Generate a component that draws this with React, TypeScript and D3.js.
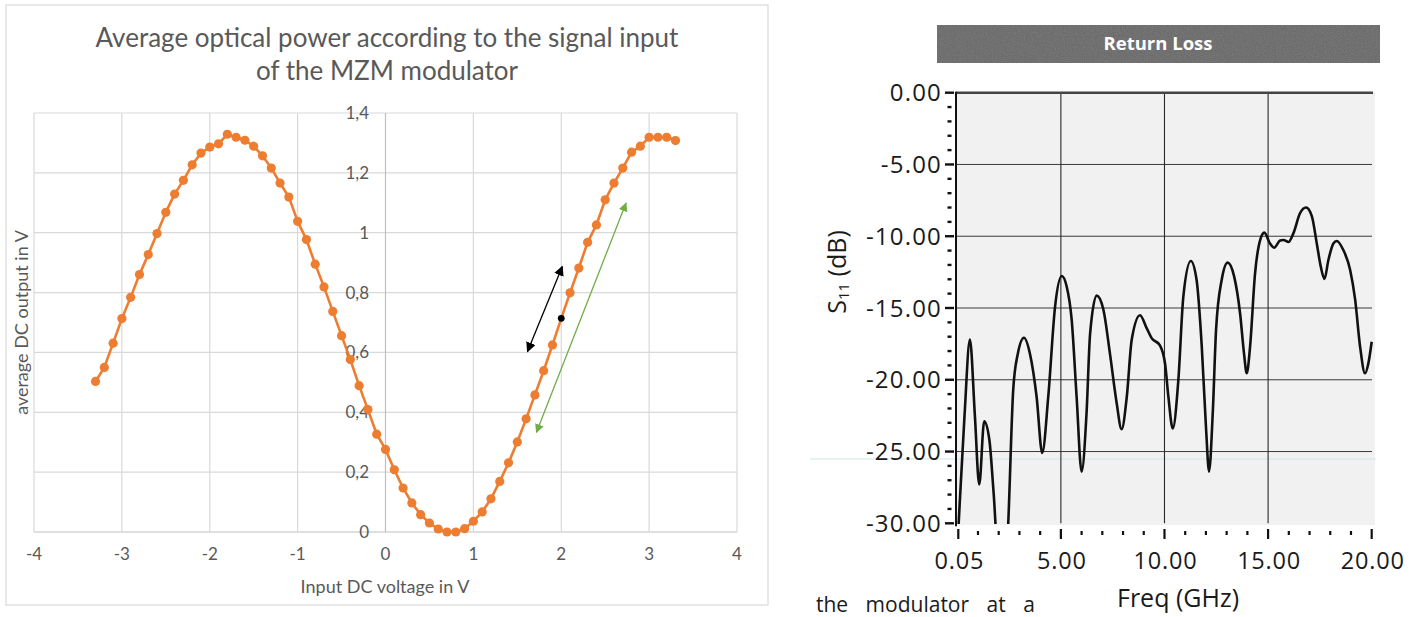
import React from "react";
import * as d3 from "d3";

// ---------- Left chart data (MZM transfer curve) ----------
const voltages = [
  -3.3, -3.2, -3.1, -3.0, -2.9, -2.8, -2.7, -2.6, -2.5, -2.4, -2.3, -2.2, -2.1, -2.0,
  -1.9, -1.8, -1.7, -1.6, -1.5, -1.4, -1.3, -1.2, -1.1, -1.0, -0.9, -0.8, -0.7, -0.6,
  -0.5, -0.4, -0.3, -0.2, -0.1, 0.0, 0.1, 0.2, 0.3, 0.4, 0.5, 0.6, 0.7, 0.8, 0.9, 1.0,
  1.1, 1.2, 1.3, 1.4, 1.5, 1.6, 1.7, 1.8, 1.9, 2.0, 2.1, 2.2, 2.3, 2.4, 2.5, 2.6, 2.7,
  2.8, 2.9, 3.0, 3.1, 3.2, 3.3,
];
const dcOutput = [
  0.503, 0.55, 0.631, 0.713, 0.784, 0.86, 0.927, 0.997, 1.068, 1.129, 1.175, 1.227, 1.266, 1.286,
  1.297, 1.329, 1.319, 1.309, 1.289, 1.257, 1.216, 1.166, 1.119, 1.038, 0.977, 0.895, 0.819, 0.737,
  0.656, 0.576, 0.489, 0.409, 0.327, 0.276, 0.208, 0.147, 0.097, 0.058, 0.03, 0.01, 0.0, 0.0, 0.011, 0.036,
  0.067, 0.111, 0.169, 0.231, 0.301, 0.378, 0.458, 0.539, 0.625, 0.714, 0.799, 0.882, 0.968, 1.026, 1.11, 1.166, 1.216,
  1.269, 1.289, 1.319, 1.319, 1.319, 1.308,
];
const biasPoint = { x: 2.0, y: 0.714 };
const blackArrow = [
  { x: 1.616, y: 0.603 },
  { x: 2.012, y: 0.887 },
];
const greenArrow = [
  { x: 1.718, y: 0.333 },
  { x: 2.737, y: 1.099 },
];
const leftXTicks = [-4, -3, -2, -1, 0, 1, 2, 3, 4];
const leftYTicks = [0, 0.2, 0.4, 0.6, 0.8, 1.0, 1.2, 1.4];
const leftYTickLabels = ["0", "0,2", "0,4", "0,6", "0,8", "1", "1,2", "1,4"];
const leftTitle = [
  "Average optical power according to the signal input",
  "of the MZM modulator",
];

// ---------- Right chart data (Return loss S11) ----------
const freqGHz = [
  0.05, 0.1, 0.35, 0.61, 0.85, 1.06, 1.3, 1.55, 1.75, 2.18, 2.46, 2.7, 2.92, 3.22, 3.51, 3.83, 4.1,
  4.39, 4.72, 5.04, 5.28, 5.52, 5.76, 6.0, 6.24, 6.41, 6.73, 7.05, 7.37, 7.69, 7.93, 8.18, 8.42,
  8.82, 9.14, 9.38, 9.78, 10.03, 10.19, 10.4, 10.67, 10.91, 11.27, 11.55, 11.8, 12.01, 12.15, 12.33,
  12.49, 12.76, 13.05, 13.36, 13.65, 13.84, 13.97, 14.13, 14.37, 14.61, 14.82, 15.09, 15.29, 15.58,
  15.74, 15.98, 16.22, 16.54, 16.83, 17.11, 17.35, 17.54, 17.72, 17.91, 18.15, 18.31, 18.63, 18.96,
  19.2, 19.44, 19.68, 19.84, 20.0,
];
const s11dB = [
  -30.5, -29.1, -22.5, -17.2, -22.5, -27.3, -22.9, -24.2, -27.8, -37, -30, -20.7, -18.2, -17.07, -18.2, -21.2, -25.1,
  -21.2, -14.9, -12.77, -13.5, -15.8, -21.2, -26.4, -22.3, -16.8, -14.14, -15.1, -18.2, -21.6, -23.45, -21.2, -17.2,
  -15.5, -16.4, -17.1, -17.6, -18.9, -21.2, -23.4, -20.0, -14.2, -11.73, -13.05, -17.7, -23.5, -26.4, -22.3,
  -16.5, -13.05, -11.84, -12.8, -15.4, -18.2, -19.55, -17.7, -12.6, -10.3, -9.75, -10.5, -10.8, -10.3,
  -10.26, -10.4, -9.8, -8.4, -8.0, -8.6, -10.5, -12.1, -12.98, -11.66, -10.5, -10.33, -10.96, -12.35,
  -14.4, -17.7, -19.55, -18.85, -17.35,
];
const rightXMajor = [0.05, 5, 10, 15, 20];
const rightXMajorLabels = ["0.05", "5.00", "10.00", "15.00", "20.00"];
const rightXMinor = [1, 2, 3, 4, 6, 7, 8, 9, 11, 12, 13, 14, 16, 17, 18, 19];
const rightYMajor = [0, -5, -10, -15, -20, -25, -30];
const rightYMajorLabels = ["0.00", "-5.00", "-10.00", "-15.00", "-20.00", "-25.00", "-30.00"];
const rightYMinor = [
  -1, -2, -3, -4, -6, -7, -8, -9, -11, -12, -13, -14, -16, -17, -18, -19, -21, -22, -23, -24, -26, -27, -28, -29,
];

const LFONT = "Lato, 'Open Sans', sans-serif";
const RFONT = "'Open Sans', 'Noto Sans', sans-serif";

export default function App() {
  // Left scales
  const lx = d3.scaleLinear().domain([-4, 4]).range([34, 737]);
  const ly = d3.scaleLinear().domain([0, 1.4]).range([532, 113]);
  const pts = voltages.map((v, i) => ({ x: v, y: dcOutput[i] }));
  const lineL = d3
    .line<{ x: number; y: number }>()
    .x((d) => lx(d.x))
    .y((d) => ly(d.y));

  // Right scales
  const rx = d3.scaleLinear().domain([0.05, 20]).range([958.3, 1371.7]);
  const ry = d3.scaleLinear().domain([-30, 0]).range([523.3, 92.7]);
  const sPts = freqGHz.map((f, i) => ({ f, v: s11dB[i] }));
  const lineR = d3
    .line<{ f: number; v: number }>()
    .x((d) => rx(d.f))
    .y((d) => ry(d.v))
    .curve(d3.curveMonotoneX);

  const grey = "#595959";

  return (
    <svg
      width={1418}
      height={617}
      viewBox="0 0 1418 617"
      style={{ position: "absolute", left: 0, top: 0, background: "#fff" }}
    >
      <defs>
        <marker id="ahBlack" viewBox="0 0 10 10" refX="9" refY="5" markerWidth="10" markerHeight="10" markerUnits="userSpaceOnUse" orient="auto-start-reverse">
          <path d="M0,0 L10,5 L0,10 z" fill="#000" />
        </marker>
        <marker id="ahGreen" viewBox="0 0 10 10" refX="9" refY="5" markerWidth="9" markerHeight="9" markerUnits="userSpaceOnUse" orient="auto-start-reverse">
          <path d="M0,0 L10,5 L0,10 z" fill="#70ad47" />
        </marker>
        <clipPath id="rclip">
          <rect x={956} y={90} width={420} height={434} />
        </clipPath>
        <filter id="noise" x="0" y="0" width="100%" height="100%">
          <feTurbulence type="fractalNoise" baseFrequency="0.9" numOctaves="2" seed="3" />
          <feColorMatrix type="saturate" values="0" />
        </filter>
      </defs>

      {/* ================= LEFT CHART ================= */}
      <rect x={6} y={5} width={762} height={600} fill="#fff" stroke="#d9d9d9" strokeWidth={1.2} />
      {leftTitle.map((t, i) => (
        <text key={t} x={387} y={47 + i * 33} textAnchor="middle" fontFamily={LFONT} fontSize={26} fill={grey}>
          {t}
        </text>
      ))}
      {/* grid */}
      {leftYTicks.map((t) => (
        <line key={"gy" + t} x1={lx(-4)} x2={lx(4)} y1={ly(t)} y2={ly(t)} stroke={t === 0 ? "#bfbfbf" : "#d9d9d9"} strokeWidth={1.2} />
      ))}
      {leftXTicks.map((t) => (
        <line key={"gx" + t} x1={lx(t)} x2={lx(t)} y1={ly(0)} y2={ly(1.4)} stroke={t === 0 ? "#bfbfbf" : "#d9d9d9"} strokeWidth={1.2} />
      ))}
      {leftXTicks.map((t) => (
        <text key={"xl" + t} x={lx(t)} y={560} textAnchor="middle" fontFamily={LFONT} fontSize={17} fill={grey}>
          {t}
        </text>
      ))}
      {leftYTicks.map((t, i) => (
        <text key={"yl" + t} x={369} y={ly(t) + 6} textAnchor="end" fontFamily={LFONT} fontSize={17} fill={grey}>
          {leftYTickLabels[i]}
        </text>
      ))}
      <text x={385} y={593} textAnchor="middle" fontFamily={LFONT} fontSize={18} fill={grey}>
        Input DC voltage in V
      </text>
      <text transform={`translate(28,${(ly(0) + ly(1.4)) / 2}) rotate(-90)`} textAnchor="middle" fontFamily={LFONT} fontSize={18} fill={grey}>
        average DC output in V
      </text>
      {/* series */}
      <path d={lineL(pts) || ""} fill="none" stroke="#ed7d31" strokeWidth={2.6} />
      {pts.map((p) =>
        p.x === biasPoint.x ? null : (
          <circle key={"p" + p.x} cx={lx(p.x)} cy={ly(p.y)} r={4.6} fill="#ed7d31" />
        )
      )}
      <circle cx={lx(biasPoint.x)} cy={ly(biasPoint.y)} r={3.4} fill="#000" />
      <line
        x1={lx(blackArrow[0].x)} y1={ly(blackArrow[0].y)} x2={lx(blackArrow[1].x)} y2={ly(blackArrow[1].y)}
        stroke="#000" strokeWidth={1.3} markerStart="url(#ahBlack)" markerEnd="url(#ahBlack)"
      />
      <line
        x1={lx(greenArrow[0].x)} y1={ly(greenArrow[0].y)} x2={lx(greenArrow[1].x)} y2={ly(greenArrow[1].y)}
        stroke="#70ad47" strokeWidth={1.3} markerStart="url(#ahGreen)" markerEnd="url(#ahGreen)"
      />

      {/* ================= RIGHT CHART ================= */}
      <rect x={937} y={25} width={443} height={38} fill="#666" />
      <rect x={937} y={25} width={443} height={38} fill="#000" filter="url(#noise)" opacity={0.25} />
      <text x={1158} y={50} textAnchor="middle" fontFamily={RFONT} fontWeight="bold" fontSize={18.5} fill="#fff">
        Return Loss
      </text>

      <rect x={957} y={92} width={418} height={433} fill="#f1f1f1" />
      {/* faint scan line */}
      <line x1={810} x2={1376} y1={459} y2={459} stroke="#cfe6e6" strokeWidth={1.2} />
      {rightYMajor.filter((t) => t !== 0 && t !== -30).map((t) => (
        <line key={"rgy" + t} x1={957} x2={1372} y1={ry(t)} y2={ry(t)} stroke="#3a3a3a" strokeWidth={1} />
      ))}
      {[5, 10, 15].map((t) => (
        <line key={"rgx" + t} x1={rx(t)} x2={rx(t)} y1={ry(0)} y2={ry(-30)} stroke="#2a2a2a" strokeWidth={1.1} />
      ))}
      <line x1={956} x2={1373} y1={ry(0)} y2={ry(0)} stroke="#444" strokeWidth={2.5} />
      <line x1={956} x2={956} y1={ry(0) - 1} y2={ry(-30) + 3} stroke="#111" strokeWidth={2} />

      {/* y ticks */}
      {rightYMajor.map((t) => (
        <line key={"ryt" + t} x1={945} x2={954} y1={ry(t)} y2={ry(t)} stroke="#111" strokeWidth={2.4} />
      ))}
      {rightYMinor.map((t) => (
        <line key={"rym" + t} x1={947.5} x2={951.5} y1={ry(t)} y2={ry(t)} stroke="#111" strokeWidth={2.4} />
      ))}
      {/* x ticks */}
      {rightXMajor.map((t) => (
        <line key={"rxt" + t} x1={rx(t)} x2={rx(t)} y1={529} y2={539} stroke="#111" strokeWidth={2.2} />
      ))}
      {rightXMinor.map((t) => (
        <line key={"rxm" + t} x1={rx(t)} x2={rx(t)} y1={531} y2={535} stroke="#111" strokeWidth={2.2} />
      ))}
      {rightYMajor.map((t, i) => (
        <text key={"ryl" + t} x={942} y={ry(t) + 8.5} textAnchor="end" fontFamily={RFONT} fontSize={24} letterSpacing={1.2} fill="#1a1a1a">
          {rightYMajorLabels[i]}
        </text>
      ))}
      {rightXMajor.map((t, i) => (
        <text key={"rxl" + t} x={rx(t) + 1} y={569} textAnchor="middle" fontFamily={RFONT} fontSize={23.5} letterSpacing={0.8} fill="#1a1a1a">
          {rightXMajorLabels[i]}
        </text>
      ))}
      <text x={1178} y={607} textAnchor="middle" fontFamily={RFONT} fontSize={25} fill="#1a1a1a">
        Freq (GHz)
      </text>
      <text transform={`translate(846,272) rotate(-90)`} textAnchor="middle" fontFamily={RFONT} fontSize={25} fill="#1a1a1a">
        S<tspan fontSize={15} dy={3}>11</tspan>
        <tspan dy={-3}> (dB)</tspan>
      </text>

      <path d={lineR(sPts) || ""} fill="none" stroke="#111" strokeWidth={2.6} clipPath="url(#rclip)" />

      <text x={816} y={612} fontFamily={RFONT} fontSize={21} fill="#1a1a1a" wordSpacing={12}>
        the modulator at a
      </text>
    </svg>
  );
}
